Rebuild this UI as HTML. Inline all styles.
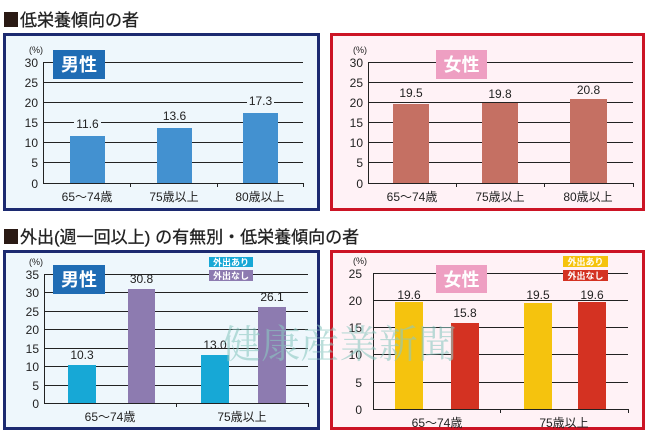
<!DOCTYPE html>
<html><head><meta charset="utf-8"><style>
html,body{margin:0;padding:0;background:#fff;}
svg{display:block;font-family:"Liberation Sans","Noto Sans CJK JP",sans-serif;}
</style></head><body>
<svg width="652" height="436" viewBox="0 0 652 436" xmlns="http://www.w3.org/2000/svg">
<!-- titles -->
<rect x="4" y="12" width="14" height="15" fill="#2a1a14"/>
<text x="20" y="26" font-size="17" fill="#222" stroke="#222" stroke-width="0.3">低栄養傾向の者</text>
<rect x="4" y="229" width="14" height="15" fill="#2a1a14"/>
<text x="20" y="243" font-size="17" fill="#222" stroke="#222" stroke-width="0.3">外出<tspan font-family="'Liberation Sans',sans-serif">(</tspan>週一回以上<tspan font-family="'Liberation Sans',sans-serif">)</tspan> の有無別・低栄養傾向の者</text>

<!-- Panel 1 -->
<rect x="4.5" y="34.5" width="314" height="175" fill="#eef7fc" stroke="#1c2a70" stroke-width="3"/>
<g stroke="#222" stroke-width="1">
<line x1="43" y1="62.5" x2="303" y2="62.5"/><line x1="43" y1="82.5" x2="303" y2="82.5"/>
<line x1="43" y1="102.5" x2="303" y2="102.5"/><line x1="43" y1="122.5" x2="303" y2="122.5"/>
<line x1="43" y1="142.5" x2="303" y2="142.5"/><line x1="43" y1="162.5" x2="303" y2="162.5"/>
<line x1="43" y1="183.5" x2="303" y2="183.5"/>
<line x1="43.5" y1="62" x2="43.5" y2="183"/>
<line x1="130.5" y1="183" x2="130.5" y2="187"/><line x1="217.5" y1="183" x2="217.5" y2="187"/><line x1="303.5" y1="183" x2="303.5" y2="187"/>
</g>
<g font-size="12" fill="#222" text-anchor="end">
<text x="38" y="67">30</text><text x="38" y="87">25</text><text x="38" y="107">20</text><text x="38" y="127">15</text><text x="38" y="147">10</text><text x="38" y="167">5</text><text x="38" y="188">0</text></g>
<text x="29" y="53" font-size="9" fill="#222">(%)</text>
<rect x="53" y="50" width="52" height="29" fill="#1f6cb4"/>
<text x="79" y="71" font-size="18" font-weight="bold" fill="#fff" text-anchor="middle">男性</text>
<g fill="#4391d0"><rect x="70" y="136" width="35" height="47"/><rect x="157" y="128" width="35" height="55"/><rect x="243" y="113" width="35" height="70"/></g>
<g font-size="12" fill="#222" text-anchor="middle">
<rect x="74" y="117" width="27" height="11" fill="#eef7fc"/><text x="87.5" y="128">11.6</text>
<rect x="161" y="109" width="27" height="11" fill="#eef7fc"/><text x="174.5" y="120">13.6</text>
<rect x="247" y="94" width="27" height="11" fill="#eef7fc"/><text x="260.5" y="105">17.3</text>
<text x="87" y="201">65〜74歳</text><text x="174" y="201">75歳以上</text><text x="260" y="201">80歳以上</text></g>

<!-- Panel 2 -->
<rect x="331.5" y="34.5" width="312" height="175" fill="#fff2f6" stroke="#cc1425" stroke-width="3"/>
<g stroke="#222" stroke-width="1">
<line x1="368" y1="62.5" x2="633" y2="62.5"/><line x1="368" y1="82.5" x2="633" y2="82.5"/>
<line x1="368" y1="102.5" x2="633" y2="102.5"/><line x1="368" y1="122.5" x2="633" y2="122.5"/>
<line x1="368" y1="142.5" x2="633" y2="142.5"/><line x1="368" y1="162.5" x2="633" y2="162.5"/>
<line x1="368" y1="183.5" x2="633" y2="183.5"/>
<line x1="368.5" y1="62" x2="368.5" y2="183"/>
<line x1="456.5" y1="183" x2="456.5" y2="187"/><line x1="544.5" y1="183" x2="544.5" y2="187"/><line x1="633.5" y1="183" x2="633.5" y2="187"/>
</g>
<g font-size="12" fill="#222" text-anchor="end">
<text x="363" y="67">30</text><text x="363" y="87">25</text><text x="363" y="107">20</text><text x="363" y="127">15</text><text x="363" y="147">10</text><text x="363" y="167">5</text><text x="363" y="188">0</text></g>
<text x="353" y="53" font-size="9" fill="#222">(%)</text>
<rect x="436" y="50" width="51" height="29" fill="#ee9fc2"/>
<text x="461.5" y="71" font-size="18" font-weight="bold" fill="#fff" text-anchor="middle">女性</text>
<g fill="#c57063"><rect x="393" y="104" width="36" height="79"/><rect x="482" y="103" width="36" height="80"/><rect x="570" y="99" width="37" height="84"/></g>
<g font-size="12" fill="#222" text-anchor="middle">
<text x="411" y="97">19.5</text><text x="500" y="98">19.8</text><text x="588.5" y="94">20.8</text>
<text x="412" y="201">65〜74歳</text><text x="500" y="201">75歳以上</text><text x="588" y="201">80歳以上</text></g>

<!-- Panel 3 -->
<rect x="4.5" y="251.5" width="314" height="177" fill="#eef7fc" stroke="#1c2a70" stroke-width="3"/>
<g stroke="#222" stroke-width="1">
<line x1="44" y1="274.5" x2="308" y2="274.5"/><line x1="44" y1="292.5" x2="308" y2="292.5"/>
<line x1="44" y1="311.5" x2="308" y2="311.5"/><line x1="44" y1="329.5" x2="308" y2="329.5"/>
<line x1="44" y1="348.5" x2="308" y2="348.5"/><line x1="44" y1="366.5" x2="308" y2="366.5"/>
<line x1="44" y1="385.5" x2="308" y2="385.5"/><line x1="44" y1="403.5" x2="308" y2="403.5"/>
<line x1="44.5" y1="274" x2="44.5" y2="403"/>
<line x1="176.5" y1="403" x2="176.5" y2="407"/><line x1="308.5" y1="403" x2="308.5" y2="407"/>
</g>
<g font-size="12" fill="#222" text-anchor="end">
<text x="39" y="279">35</text><text x="39" y="297">30</text><text x="39" y="316">25</text><text x="39" y="334">20</text><text x="39" y="353">15</text><text x="39" y="371">10</text><text x="39" y="390">5</text><text x="39" y="408">0</text></g>
<text x="29" y="265" font-size="9" fill="#222">(%)</text>
<rect x="53" y="265" width="52" height="29" fill="#1f6cb4"/>
<text x="79" y="286" font-size="18" font-weight="bold" fill="#fff" text-anchor="middle">男性</text>
<rect x="209" y="257" width="44" height="10" fill="#17a8d6"/><text x="231" y="265.5" font-size="9" font-weight="bold" fill="#fff" text-anchor="middle">外出あり</text>
<rect x="209" y="270" width="44" height="11" fill="#8d7bb0"/><text x="231" y="279" font-size="9" font-weight="bold" fill="#fff" text-anchor="middle">外出なし</text>
<rect x="68" y="365" width="28" height="38" fill="#17a8d6"/><rect x="128" y="289" width="27" height="114" fill="#8d7bb0"/>
<rect x="201" y="355" width="28" height="48" fill="#17a8d6"/><rect x="258" y="307" width="28" height="96" fill="#8d7bb0"/>
<g font-size="12" fill="#222" text-anchor="middle">
<text x="82" y="359">10.3</text><text x="141.5" y="283">30.8</text><text x="215" y="349">13.0</text><text x="272" y="301">26.1</text>
<text x="110" y="421">65〜74歳</text><text x="242" y="421">75歳以上</text></g>

<!-- Panel 4 -->
<rect x="331.5" y="251.5" width="312" height="177" fill="#fff2f6" stroke="#cc1425" stroke-width="3"/>
<g stroke="#222" stroke-width="1">
<line x1="373" y1="273.5" x2="628" y2="273.5"/><line x1="373" y1="300.5" x2="628" y2="300.5"/>
<line x1="373" y1="327.5" x2="628" y2="327.5"/><line x1="373" y1="354.5" x2="628" y2="354.5"/>
<line x1="373" y1="382.5" x2="628" y2="382.5"/><line x1="373" y1="409.5" x2="628" y2="409.5"/>
<line x1="373.5" y1="273" x2="373.5" y2="409"/>
<line x1="500.5" y1="409" x2="500.5" y2="413"/><line x1="628.5" y1="409" x2="628.5" y2="413"/>
</g>
<g font-size="12" fill="#222" text-anchor="end">
<text x="362" y="278">25</text><text x="362" y="305">20</text><text x="362" y="332">15</text><text x="362" y="359">10</text><text x="362" y="387">5</text><text x="362" y="414">0</text></g>
<text x="353" y="264" font-size="9" fill="#222">(%)</text>
<rect x="436" y="265" width="51" height="28" fill="#ee9fc2"/>
<text x="461.5" y="286" font-size="18" font-weight="bold" fill="#fff" text-anchor="middle">女性</text>
<rect x="563" y="256" width="45" height="11" fill="#f5c30e"/><text x="585.5" y="265" font-size="9" font-weight="bold" fill="#fff" text-anchor="middle">外出あり</text>
<rect x="563" y="270" width="45" height="11" fill="#d43222"/><text x="585.5" y="279" font-size="9" font-weight="bold" fill="#fff" text-anchor="middle">外出なし</text>
<rect x="395" y="302" width="28" height="107" fill="#f5c30e"/><rect x="451" y="323" width="28" height="86" fill="#d43222"/>
<rect x="524" y="303" width="28" height="106" fill="#f5c30e"/><rect x="578" y="302" width="28" height="107" fill="#d43222"/>
<g font-size="12" fill="#222" text-anchor="middle">
<text x="409" y="299">19.6</text><text x="465" y="317">15.8</text><text x="538" y="299">19.5</text><text x="592" y="299">19.6</text>
<text x="437" y="427">65〜74歳</text><text x="564" y="427">75歳以上</text></g>

<!-- watermark -->
<text x="222" y="358" font-size="39" fill="#8cc8c2" fill-opacity="0.6" font-family="'Noto Serif CJK SC','Liberation Serif',serif" textLength="235">健康産業新聞</text>
</svg>
</body></html>
